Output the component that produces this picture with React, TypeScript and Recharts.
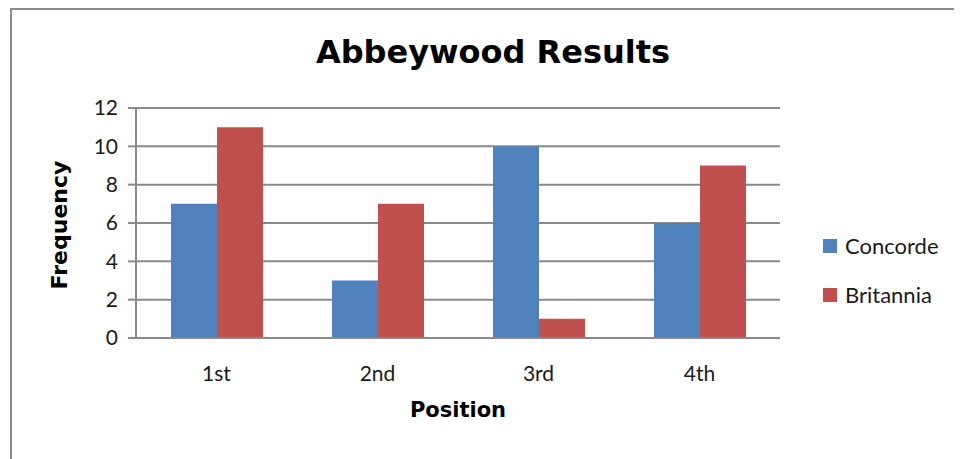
import React from 'react';
import { BarChart, Bar, XAxis, YAxis, CartesianGrid, Label } from 'recharts';

const categories = ['1st', '2nd', '3rd', '4th'];
const concorde = [7, 3, 10, 6];
const britannia = [11, 7, 1, 9];
const yTicks = [0, 2, 4, 6, 8, 10, 12];
const seriesNames = ['Concorde', 'Britannia'];
const seriesColors = ['#4F81BD', '#C0504D'];

const data = categories.map((c, i) => ({ position: c, Concorde: concorde[i], Britannia: britannia[i] }));

const TICK_FONT = 'Lato, "Liberation Sans", sans-serif';
const TITLE_FONT = '"DejaVu Sans", sans-serif';

export default function App() {
  return (
    <div style={{ position: 'relative', margin: '-8px 0 0 -8px', width: 962, height: 459, overflow: 'hidden', background: '#fff' }}>
      <div style={{ position: 'absolute', left: 10, top: 8, width: 1000, height: 500, border: '2px solid #8a8a8a', boxSizing: 'border-box' }} />
      <div style={{ position: 'absolute', left: 0, top: 33, width: 986, textAlign: 'center', fontFamily: TITLE_FONT, fontWeight: 'bold', fontSize: 32, color: '#000' }}>
        Abbeywood Results
      </div>
      <div style={{ position: 'absolute', left: 0, top: 0 }}>
        <BarChart width={962} height={459} data={data} margin={{ top: 108, right: 182, bottom: 0, left: 96 }} barGap={0} barSize={46}>
          <CartesianGrid vertical={false} stroke="#8a8a8a" strokeWidth={2} />
          <XAxis dataKey="position" tickLine={false} axisLine={{ stroke: '#8a8a8a', strokeWidth: 2 }} tickMargin={22}
            tick={{ fill: '#1a1a1a', fontSize: 21, fontFamily: TICK_FONT }} height={121}>
            <Label value="Position" position="insideTop" offset={64} style={{ fontFamily: TITLE_FONT, fontWeight: 'bold', fontSize: 21, fill: '#000' }} />
          </XAxis>
          <YAxis domain={[0, 12]} ticks={yTicks} width={40} tickSize={8} tickMargin={10} interval={0}
            tickLine={{ stroke: '#8a8a8a', strokeWidth: 2 }} axisLine={{ stroke: '#8a8a8a', strokeWidth: 2 }}
            tick={{ fill: '#1a1a1a', fontSize: 21, fontFamily: TICK_FONT }}>
            <Label value="Frequency" angle={-90} position="center" dx={-57} dy={2} style={{ fontFamily: TITLE_FONT, fontWeight: 'bold', fontSize: 22, fill: '#000', textAnchor: 'middle' }} />
          </YAxis>
          <Bar dataKey="Concorde" fill={seriesColors[0]} isAnimationActive={false} />
          <Bar dataKey="Britannia" fill={seriesColors[1]} isAnimationActive={false} />
        </BarChart>
      </div>
      <div style={{ position: 'absolute', left: 823, top: 221, fontFamily: TICK_FONT }}>
        {seriesNames.map((name, i) => (
          <div key={name} style={{ display: 'flex', alignItems: 'center', height: 49 }}>
            <div style={{ width: 14, height: 14, background: seriesColors[i], marginRight: 8 }} />
            <span style={{ fontSize: 22, color: '#1a1a1a' }}>{name}</span>
          </div>
        ))}
      </div>
    </div>
  );
}
